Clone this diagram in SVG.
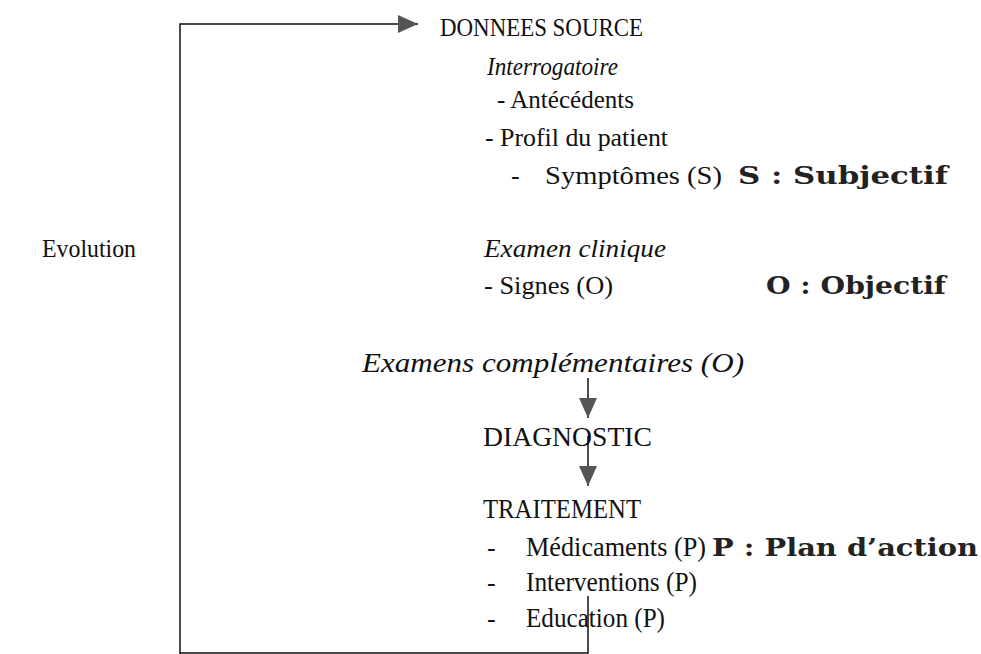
<svg xmlns="http://www.w3.org/2000/svg" width="981" height="654" viewBox="0 0 981 654">
<defs>
<marker id="ah" markerWidth="20" markerHeight="18" refX="20" refY="9" orient="auto" markerUnits="userSpaceOnUse">
<path d="M0,0 L20,9 L0,18 Z" fill="#555"/>
</marker>
<style>
text{font-family:"Liberation Serif","Times New Roman",serif;font-size:26px;fill:#111}
.i{font-style:italic}
.b{font-family:"DejaVu Serif","Liberation Serif",serif;font-weight:bold;font-size:25px;fill:#222}
.c{stroke:#111;stroke-width:1.5;fill:none}
</style>
</defs>
<rect width="981" height="654" fill="#fff"/>
<g id="connectors">
<path class="c" d="M180,654 L180,24 L418,24" marker-end="url(#ah)"/>
<path class="c" d="M588,378 L588,418" marker-end="url(#ah)"/>
<path class="c" d="M588,436 L588,486" marker-end="url(#ah)"/>
<path class="c" d="M588,596 L588,653 L180,653"/>
</g>
<g id="evolution"><text x="42" y="257" textLength="94" lengthAdjust="spacingAndGlyphs">Evolution</text></g>
<g id="donnees">
<text x="440" y="36" textLength="203" lengthAdjust="spacingAndGlyphs">DONNEES SOURCE</text>
<text class="i" x="487" y="75" textLength="131" lengthAdjust="spacingAndGlyphs">Interrogatoire</text>
<text x="497" y="108" textLength="137" lengthAdjust="spacingAndGlyphs">- Antécédents</text>
<text x="485" y="146" textLength="183" lengthAdjust="spacingAndGlyphs">- Profil du patient</text>
<text x="511" y="184">-</text>
<text x="545" y="184" textLength="177" lengthAdjust="spacingAndGlyphs">Symptômes (S)</text>
<text class="b" x="738" y="184" textLength="210" lengthAdjust="spacingAndGlyphs">S : Subjectif</text>
<text class="i" x="484" y="257" textLength="182" lengthAdjust="spacingAndGlyphs">Examen clinique</text>
<text x="484" y="294" textLength="129" lengthAdjust="spacingAndGlyphs">- Signes (O)</text>
<text class="b" x="766" y="294" textLength="180" lengthAdjust="spacingAndGlyphs">O : Objectif</text>
<text class="i" x="362" y="372" textLength="382" lengthAdjust="spacingAndGlyphs" style="font-size:28px">Examens complémentaires (O)</text>
</g>
<g id="diagnostic"><text x="483" y="446" textLength="169" lengthAdjust="spacingAndGlyphs" style="font-size:27px">DIAGNOSTIC</text></g>
<g id="traitement">
<text x="483" y="518" textLength="158" lengthAdjust="spacingAndGlyphs" style="font-size:27px">TRAITEMENT</text>
<text x="487" y="556">-</text>
<text x="526" y="556" textLength="180" lengthAdjust="spacingAndGlyphs" style="font-size:27px">Médicaments (P)</text>
<text class="b" x="712" y="556" textLength="266" lengthAdjust="spacingAndGlyphs">P : Plan d’action</text>
<text x="487" y="591">-</text>
<text x="526" y="591" textLength="171" lengthAdjust="spacingAndGlyphs" style="font-size:27px">Interventions (P)</text>
<text x="487" y="627">-</text>
<text x="526" y="627" textLength="139" lengthAdjust="spacingAndGlyphs" style="font-size:27px">Education (P)</text>
</g>
</svg>
